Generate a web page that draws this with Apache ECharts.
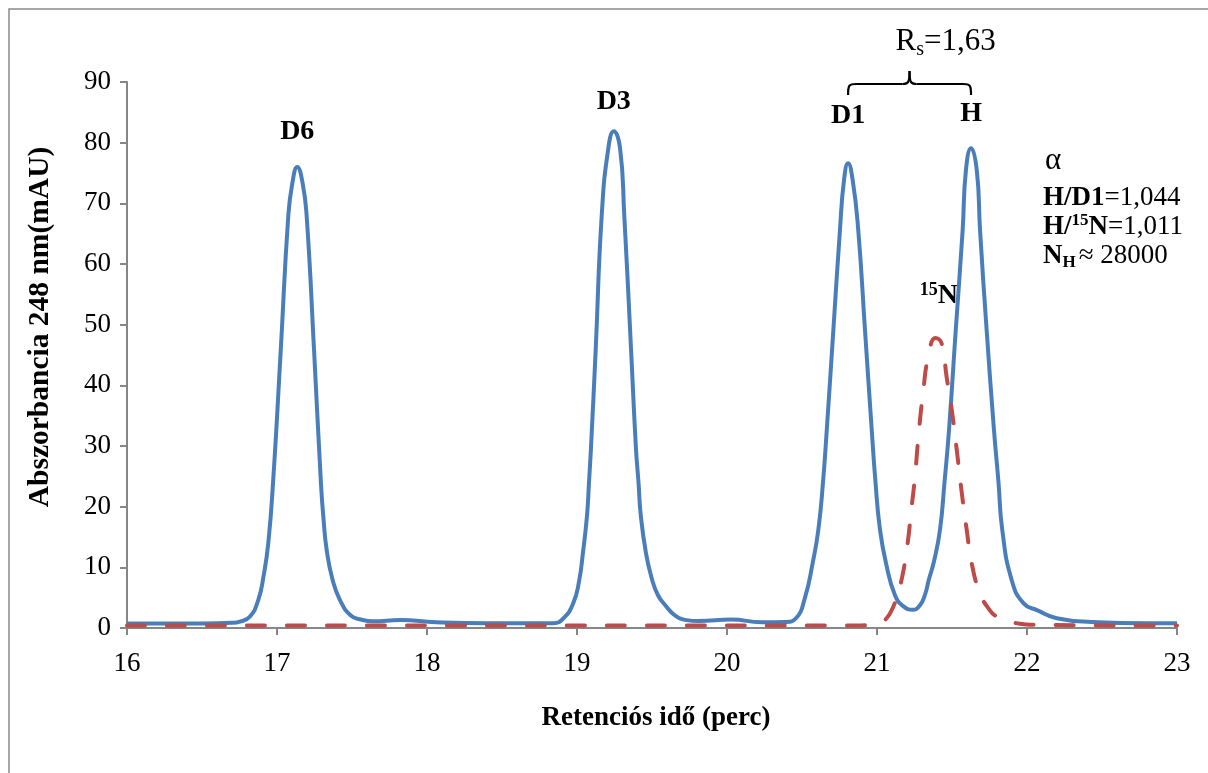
<!DOCTYPE html>
<html>
<head>
<meta charset="utf-8">
<title>Kromatogram</title>
<script src="https://cdn.jsdelivr.net/npm/echarts@6/dist/echarts.min.js"></script>
<style>
  html, body { margin: 0; padding: 0; background: #fff; }
  #chart { width: 1208px; height: 773px; }
</style>
</head>
<body>
<div id="chart"></div>
<script>
// retenciós idő (perc) és abszorbancia (mAU)
var blueTime = [16.0, 16.5, 16.7, 16.753, 16.82, 16.875, 16.91, 16.942, 16.975, 17.025, 17.075, 17.102, 17.135,
  17.171, 17.198, 17.247, 17.293, 17.31, 17.331, 17.37, 17.42, 17.49, 17.56, 17.64, 17.82, 18.06, 18.4, 18.84, 18.91,
  18.975, 19.013, 19.04, 19.067, 19.08, 19.093, 19.125, 19.165, 19.209, 19.245, 19.287, 19.315, 19.36, 19.393, 19.41,
  19.425, 19.46, 19.498, 19.54, 19.587, 19.653, 19.73, 19.81, 20.03, 20.23, 20.39, 20.46, 20.52, 20.571, 20.609,
  20.64, 20.665, 20.709, 20.753, 20.78, 20.807, 20.838, 20.875, 20.92, 20.965, 20.99, 21.02, 21.06, 21.12,
  21.175, 21.238, 21.285, 21.32, 21.345, 21.38, 21.42, 21.45, 21.48, 21.525, 21.571, 21.593, 21.627, 21.665, 21.687,
  21.731, 21.78, 21.81, 21.835, 21.898, 21.976, 22.07, 22.198, 22.43, 22.8, 23.0];
var blueAbs = [0.75, 0.75, 0.85, 1.05, 1.9, 4.6, 8.5, 14.0, 24.5, 45.8, 67.8, 73.3, 76.0,
  73.3, 67.8, 45.8, 23.8, 18.0, 12.9, 8.0, 4.6, 2.1, 1.4, 1.1, 1.3, 0.95, 0.78, 0.8, 1.6,
  4.1, 7.6, 12.5, 18.6, 24.0, 29.6, 46.1, 68.1, 79.1, 81.9, 79.1, 68.1, 46.1, 29.6, 24.0,
  18.6, 12.3, 8.2, 5.4, 3.8, 2.1, 1.3, 1.15, 1.4, 0.95, 1.0, 1.6, 5.0, 10.7, 16.2,
  24.0, 32.6, 49.1, 65.6, 73.8, 76.6, 73.8, 65.6, 49.1, 32.6, 24.0, 16.2, 10.7, 5.4,
  3.6, 3.0, 3.7, 5.5, 7.9, 11.0, 16.2, 24.0, 32.6, 49.1, 65.6, 75.5, 79.1, 75.5, 65.6,
  49.1, 32.6, 24.0, 16.2, 7.9, 4.1, 2.9, 1.6, 1.0, 0.8, 0.8];

var redTime = [16.0, 20.85, 20.95, 21.02, 21.064, 21.11, 21.153, 21.198, 21.231, 21.253, 21.276, 21.309,
  21.342, 21.39, 21.431, 21.464, 21.498, 21.531, 21.564, 21.598, 21.631, 21.687, 21.75, 21.798, 21.931,
  22.1, 23.0];
var redAbs = [0.4, 0.4, 0.5, 1.0, 1.6, 3.6, 6.8, 12.9, 20.0, 24.9, 31.5, 39.2,
  44.7, 47.8, 46.9, 41.4, 36.0, 29.5, 22.5, 16.2, 10.7, 5.7, 3.0, 1.9, 0.8,
  0.5, 0.4];

var xTicks = [16, 17, 18, 19, 20, 21, 22, 23];
var yTicks = [0, 10, 20, 30, 40, 50, 60, 70, 80, 90];

// csúcsok feliratai: név, idő, felirat magassága (mAU)
var peakNames = ['D6', 'D3', 'D1', 'H'];
var peakTimes = [17.135, 19.245, 20.807, 21.627];
var peakLabelAbs = [81.8, 86.8, 84.4, 84.8];

function pairs(xs, ys) {
  return xs.map(function (x, i) { return [x, ys[i]]; });
}

var FONT = '"Liberation Serif", "Times New Roman", serif';
var AXIS = '#868686';

var chart = echarts.init(document.getElementById('chart'));
chart.setOption({
  animation: false,
  grid: { left: 127, right: 31, top: 82, bottom: 145 },
  xAxis: {
    type: 'value',
    min: xTicks[0],
    max: xTicks[xTicks.length - 1],
    interval: 1,
    axisLine: { lineStyle: { color: AXIS, width: 2 } },
    axisTick: { show: true, length: 7, lineStyle: { color: AXIS, width: 2 } },
    axisLabel: { color: '#000', fontFamily: FONT, fontSize: 27, margin: 22 },
    splitLine: { show: false }
  },
  yAxis: {
    type: 'value',
    min: yTicks[0],
    max: yTicks[yTicks.length - 1],
    interval: 10,
    axisLine: { show: true, lineStyle: { color: AXIS, width: 2 } },
    axisTick: { show: true, length: 7, lineStyle: { color: AXIS, width: 2 } },
    axisLabel: { color: '#000', fontFamily: FONT, fontSize: 27, margin: 16 },
    splitLine: { show: false }
  },
  series: [
    {
      name: 'minta',
      type: 'line',
      data: pairs(blueTime, blueAbs),
      showSymbol: false,
      smooth: 0.5,
      lineStyle: { color: '#4a7ebb', width: 4 },
      z: 2
    },
    {
      name: '15N',
      type: 'line',
      data: pairs(redTime, redAbs),
      showSymbol: false,
      smooth: 0.5,
      lineStyle: { color: '#be4b48', width: 4, type: [18, 22], cap: 'round' },
      z: 3
    }
  ]
});

// feliratok: a tengelyekhez igazítva
function px(t, a) { return chart.convertToPixel({ gridIndex: 0 }, [t, a]); }

var g = [];
// külső keret
g.push({ type: 'rect', shape: { x: 9, y: 9, width: 1220, height: 790 },
  style: { fill: 'none', stroke: '#8a8a8a', lineWidth: 1.5 }, silent: true });

peakNames.forEach(function (n, i) {
  var p = px(peakTimes[i], peakLabelAbs[i]);
  g.push({ type: 'text', x: p[0], y: p[1],
    style: { text: n, fontFamily: FONT, fontWeight: 'bold', fontSize: 28, fill: '#000',
      align: 'center', verticalAlign: 'middle' } });
});

// 15N felirat
var pN = px(21.413, 54.7);
g.push({ type: 'text', x: pN[0], y: pN[1],
  style: { text: '{sup|15}{b|N}', align: 'center', verticalAlign: 'middle',
    rich: {
      sup: { fontFamily: FONT, fontWeight: 'bold', fontSize: 18, verticalAlign: 'top', fill: '#000', lineHeight: 30 },
      b: { fontFamily: FONT, fontWeight: 'bold', fontSize: 28, fill: '#000', lineHeight: 30 }
    } } });

// kapcsos zárójel D1 és H fölött
var bl = px(peakTimes[2], 90)[0], br = px(peakTimes[3], 90)[0];
var bm = (bl + br) / 2;
var yb = 95, yl = 84, yt = 71;
var braceStyle = { stroke: '#000', lineWidth: 2.2, fill: 'none' };
g.push({ type: 'bezierCurve', shape: { x1: bl, y1: yb, cpx1: bl, cpy1: yl + 1, cpx2: bl + 1, cpy2: yl, x2: bl + 8, y2: yl }, style: braceStyle });
g.push({ type: 'line', shape: { x1: bl + 8, y1: yl, x2: bm - 7, y2: yl }, style: braceStyle });
g.push({ type: 'bezierCurve', shape: { x1: bm - 7, y1: yl, cpx1: bm - 1, cpy1: yl, cpx2: bm, cpy2: yl - 2, x2: bm, y2: yt }, style: braceStyle });
g.push({ type: 'bezierCurve', shape: { x1: bm, y1: yt, cpx1: bm, cpy1: yl - 2, cpx2: bm + 1, cpy2: yl, x2: bm + 7, y2: yl }, style: braceStyle });
g.push({ type: 'line', shape: { x1: bm + 7, y1: yl, x2: br - 8, y2: yl }, style: braceStyle });
g.push({ type: 'bezierCurve', shape: { x1: br - 8, y1: yl, cpx1: br - 1, cpy1: yl, cpx2: br, cpy2: yl + 1, x2: br, y2: yb }, style: braceStyle });

g.push({ type: 'text', x: bm + 36, y: 42,
  style: { text: '{r|R}{s|s}{r|=1,63}', align: 'center', verticalAlign: 'middle',
    rich: {
      r: { fontFamily: FONT, fontSize: 31, fill: '#000', lineHeight: 36 },
      s: { fontFamily: FONT, fontSize: 20, fill: '#000', verticalAlign: 'bottom', lineHeight: 36 }
    } } });

// szelektivitás blokk
var ax = 1043;
g.push({ type: 'text', x: ax + 2, y: 161,
  style: { text: 'α', fontFamily: FONT, fontSize: 31, fill: '#000', align: 'left', verticalAlign: 'middle' } });
var rt = { fontFamily: FONT, fontSize: 27, fill: '#000', lineHeight: 30 };
var rb = { fontFamily: FONT, fontSize: 27, fontWeight: 'bold', fill: '#000', lineHeight: 30 };
g.push({ type: 'text', x: ax, y: 198,
  style: { text: '{b|H/D1}{t|=1,044}', align: 'left', verticalAlign: 'middle', rich: { b: rb, t: rt } } });
g.push({ type: 'text', x: ax, y: 227,
  style: { text: '{b|H/}{sup|15}{b|N}{t|=1,011}', align: 'left', verticalAlign: 'middle',
    rich: { b: rb, t: rt,
      sup: { fontFamily: FONT, fontSize: 17, fontWeight: 'bold', fill: '#000', verticalAlign: 'top', lineHeight: 30 } } } });
g.push({ type: 'text', x: ax, y: 256,
  style: { text: '{b|N}{sub|H}{t|≈ 28000}', align: 'left', verticalAlign: 'middle',
    rich: { b: rb, t: rt,
      sub: { fontFamily: FONT, fontSize: 17, fontWeight: 'bold', fill: '#000', verticalAlign: 'bottom', lineHeight: 30, padding: [0, 3, 0, 0] } } } });

// tengelyfeliratok
g.push({ type: 'text', x: 40, y: 327, rotation: Math.PI / 2,
  style: { text: 'Abszorbancia 248 nm(mAU)', fontFamily: FONT, fontWeight: 'bold', fontSize: 29.5, fill: '#000',
    align: 'center', verticalAlign: 'middle' } });
g.push({ type: 'text', x: 656, y: 718,
  style: { text: 'Retenciós idő (perc)', fontFamily: FONT, fontWeight: 'bold', fontSize: 27, fill: '#000',
    align: 'center', verticalAlign: 'middle' } });

chart.setOption({ graphic: g });
</script>
</body>
</html>
